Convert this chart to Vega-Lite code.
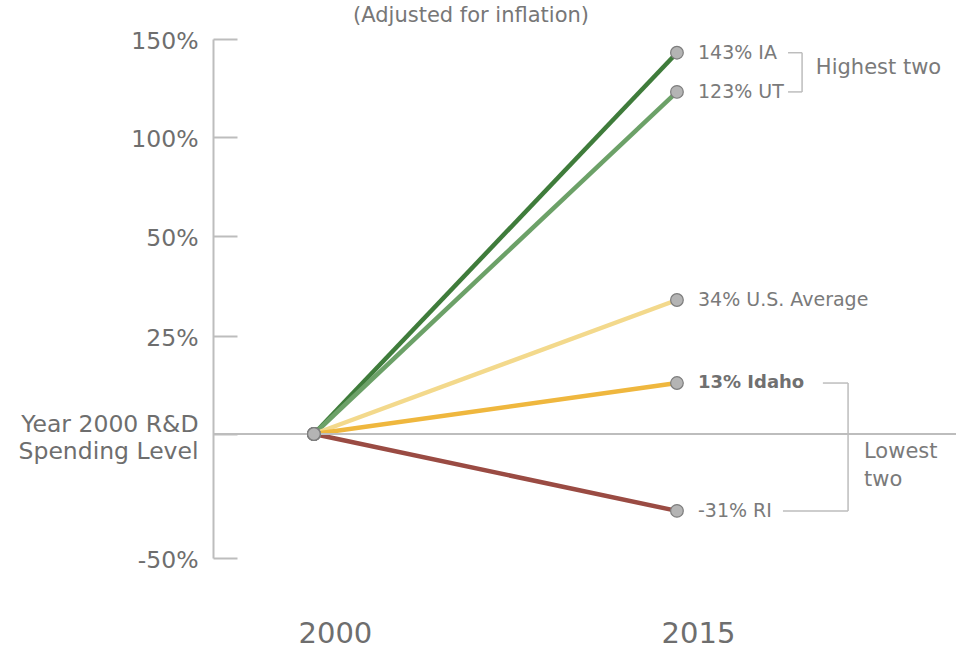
{
  "$schema": "https://vega.github.io/schema/vega-lite/v6.json",
  "width": 743,
  "height": 570,
  "autosize": {"type": "none"},
  "padding": {"left": 213, "top": 30, "right": 10, "bottom": 49},
  "background": "white",
  "title": {
    "text": "(Adjusted for inflation)",
    "anchor": "start",
    "dx": 335,
    "offset": -8,
    "baseline": "middle",
    "font": "DejaVu Sans",
    "fontSize": 21,
    "fontWeight": "normal",
    "color": "#777777"
  },
  "config": {"view": {"stroke": null}, "font": "DejaVu Sans"},
  "datasets": {
    "series": [
      {"state": "IA", "label": "143% IA", "year": 2000, "change": 0},
      {"state": "IA", "label": "143% IA", "year": 2015, "change": 143},
      {"state": "UT", "label": "123% UT", "year": 2000, "change": 0},
      {"state": "UT", "label": "123% UT", "year": 2015, "change": 123},
      {"state": "US", "label": "34% U.S. Average", "year": 2000, "change": 0},
      {"state": "US", "label": "34% U.S. Average", "year": 2015, "change": 34},
      {"state": "Idaho", "label": "13% Idaho", "year": 2000, "change": 0},
      {"state": "Idaho", "label": "13% Idaho", "year": 2015, "change": 13},
      {"state": "RI", "label": "-31% RI", "year": 2000, "change": 0},
      {"state": "RI", "label": "-31% RI", "year": 2015, "change": -31}
    ]
  },
  "data": {"name": "series"},
  "layer": [
    {
      "mark": {"type": "line", "strokeWidth": 4.5, "strokeCap": "butt"},
      "encoding": {
        "x": {
          "field": "year",
          "type": "quantitative",
          "scale": {"domain": [1995.83, 2026.53], "zero": false, "nice": false},
          "axis": {
            "values": [2000, 2015],
            "format": "d",
            "domain": false,
            "ticks": false,
            "grid": false,
            "title": null,
            "labelFont": "DejaVu Sans",
            "labelFontSize": 29,
            "labelColor": "#6e6e6e",
            "labelOffset": 21,
            "labelPadding": 33,
            "labelBaseline": "middle",
            "labelFlush": false,
            "labelOverlap": false
          }
        },
        "y": {
          "field": "change",
          "type": "quantitative",
          "scale": {
            "type": "linear",
            "domain": [-50, 0, 25, 50, 100, 150],
            "range": [528, 404, 306, 206, 107, 9],
            "zero": false,
            "nice": false
          },
          "axis": {
            "values": [-50, 0, 25, 50, 100, 150],
            "labelExpr": "datum.value == 0 ? ['Year 2000 R&D', 'Spending Level'] : datum.value + '%'",
            "grid": false,
            "title": null,
            "domainColor": "#bdbdbd",
            "domainWidth": 2,
            "tickColor": "#bdbdbd",
            "tickWidth": 2,
            "tickSize": -24,
            "labelPadding": 39,
            "labelFont": "DejaVu Sans",
            "labelFontSize": 23.5,
            "labelColor": "#6e6e6e",
            "labelLineHeight": 27,
            "labelBaseline": "middle",
            "labelOffset": {"condition": {"test": "datum.value == 0", "value": -10}, "value": 2},
            "labelOverlap": false,
            "labelFlush": false
          }
        },
        "color": {
          "field": "state",
          "type": "nominal",
          "scale": {
            "domain": ["RI", "US", "Idaho", "UT", "IA"],
            "range": ["#9a4b43", "#f3d98c", "#efb73e", "#6ca168", "#3f7c3b"]
          },
          "legend": null
        },
        "order": {"field": "year"}
      }
    },
    {
      "mark": {"type": "rule", "color": "#bdbdbd", "strokeWidth": 2},
      "encoding": {"y": {"datum": 0, "type": "quantitative"}}
    },
    {
      "mark": {"type": "circle", "size": 160, "fill": "#b4b4b4", "stroke": "#7d7d7d", "strokeWidth": 1.2, "opacity": 1},
      "encoding": {
        "x": {"field": "year", "type": "quantitative"},
        "y": {"field": "change", "type": "quantitative"}
      }
    },
    {
      "transform": [{"filter": "datum.year == 2015 && datum.state != 'Idaho'"}],
      "mark": {"type": "text", "align": "left", "baseline": "middle", "dx": 21, "font": "DejaVu Sans", "fontSize": 19, "color": "#7a7a7a"},
      "encoding": {
        "x": {"field": "year", "type": "quantitative"},
        "y": {"field": "change", "type": "quantitative"},
        "text": {"field": "label"}
      }
    },
    {
      "transform": [{"filter": "datum.year == 2015 && datum.state == 'Idaho'"}],
      "mark": {"type": "text", "align": "left", "baseline": "middle", "dx": 21, "font": "DejaVu Sans", "fontSize": 18, "fontWeight": "bold", "color": "#707070"},
      "encoding": {
        "x": {"field": "year", "type": "quantitative"},
        "y": {"field": "change", "type": "quantitative"},
        "text": {"field": "label"}
      }
    },
    {
      "transform": [{"filter": "datum.year == 2015 && (datum.state == 'IA' || datum.state == 'UT')"}],
      "mark": {"type": "rule", "color": "#bdbdbd", "strokeWidth": 1.5},
      "encoding": {
        "x": {"datum": 2019.59, "type": "quantitative"},
        "x2": {"datum": 2020.17},
        "y": {"field": "change", "type": "quantitative"}
      }
    },
    {
      "transform": [{"filter": "datum.year == 2015 && datum.state == 'IA'"}],
      "mark": {"type": "rule", "color": "#bdbdbd", "strokeWidth": 1.5},
      "encoding": {
        "x": {"datum": 2020.17, "type": "quantitative"},
        "y": {"datum": 143, "type": "quantitative"},
        "y2": {"datum": 123}
      }
    },
    {
      "transform": [{"filter": "datum.year == 2015 && datum.state == 'IA'"}],
      "mark": {"type": "text", "align": "left", "baseline": "middle", "dy": -4, "font": "DejaVu Sans", "fontSize": 21, "color": "#7a7a7a"},
      "encoding": {
        "x": {"datum": 2020.74, "type": "quantitative"},
        "y": {"datum": 133, "type": "quantitative"},
        "text": {"value": "Highest two"}
      }
    },
    {
      "transform": [{"filter": "datum.year == 2015 && datum.state == 'Idaho'"}],
      "mark": {"type": "rule", "color": "#bdbdbd", "strokeWidth": 1.5},
      "encoding": {
        "x": {"datum": 2021.03, "type": "quantitative"},
        "x2": {"datum": 2022.07},
        "y": {"field": "change", "type": "quantitative"}
      }
    },
    {
      "transform": [{"filter": "datum.year == 2015 && datum.state == 'RI'"}],
      "mark": {"type": "rule", "color": "#bdbdbd", "strokeWidth": 1.5},
      "encoding": {
        "x": {"datum": 2019.38, "type": "quantitative"},
        "x2": {"datum": 2022.07},
        "y": {"field": "change", "type": "quantitative"}
      }
    },
    {
      "transform": [{"filter": "datum.year == 2015 && datum.state == 'RI'"}],
      "mark": {"type": "rule", "color": "#bdbdbd", "strokeWidth": 1.5},
      "encoding": {
        "x": {"datum": 2022.07, "type": "quantitative"},
        "y": {"datum": 13, "type": "quantitative"},
        "y2": {"datum": -31}
      }
    },
    {
      "transform": [{"filter": "datum.year == 2015 && datum.state == 'RI'"}],
      "mark": {"type": "text", "align": "left", "baseline": "middle", "dy": -14, "lineHeight": 28, "font": "DejaVu Sans", "fontSize": 21, "color": "#7a7a7a"},
      "encoding": {
        "x": {"datum": 2022.73, "type": "quantitative"},
        "y": {"datum": -13, "type": "quantitative"},
        "text": {"value": ["Lowest", "two"]}
      }
    }
  ]
}
